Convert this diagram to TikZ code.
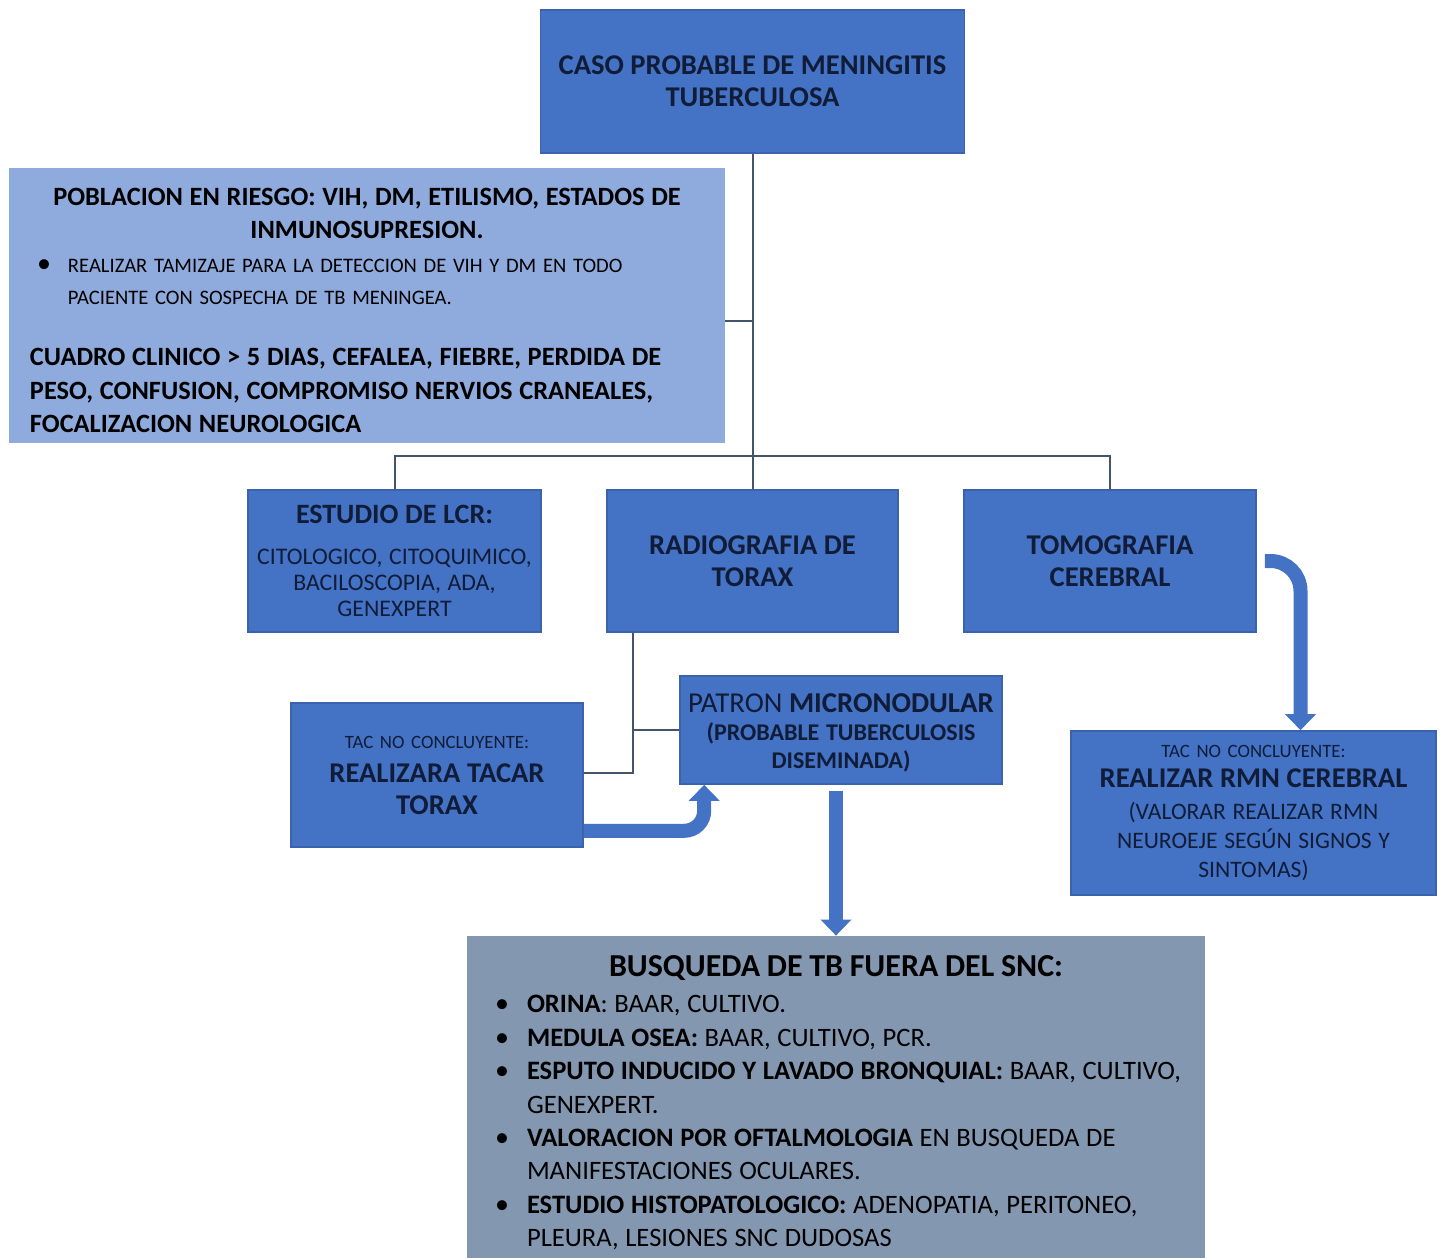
\documentclass[tikz,border=0pt]{standalone}
\usepackage{fontspec}
\setmainfont{Carlito}
\usepackage{tikz}
\usetikzlibrary{calc}
\usetikzlibrary{arrows.meta}

\definecolor{boxblue}{HTML}{4472C4}
\definecolor{boxedge}{HTML}{3A62AD}
\definecolor{riskblue}{HTML}{8FAADC}
\definecolor{slateblue}{HTML}{8497B0}
\definecolor{linegray}{HTML}{44546A}
\definecolor{navytext}{HTML}{101C38}

% bullet for the listed items
\newcommand{\listdot}[1]{\par\noindent\llap{{\fontsize{14}{0}\selectfont\textbullet}\hspace{#1}}}

\begin{document}
\begin{tikzpicture}[x=0.5pt,y=-0.5pt,
	bluebox/.style={draw=boxedge,line width=0.8pt,fill=boxblue,text=navytext,align=center,inner sep=0pt},
	link/.style={draw=linegray,line width=1pt},
	fatarrow/.style={draw=boxblue,line width=7pt,-{Triangle[width=15pt,length=8pt]}}]
	\useasboundingbox (0,0) rectangle (1442,1258);
	
	\node[bluebox,minimum width=212pt,minimum height=71.5pt,font=\bfseries\fontsize{14.3}{16}\selectfont] (caso) at (752.5,81.5) {CASO PROBABLE DE MENINGITIS\\TUBERCULOSA};
	
	\node[fill=riskblue,minimum width=358pt,minimum height=137.5pt,inner xsep=10.5pt,inner ysep=0pt,text width=337pt,align=left] (riesgo) at (367,305.5) {%
		{\centering\bfseries\fontsize{13.2}{16.5}\selectfont POBLACION EN RIESGO: VIH, DM, ETILISMO, ESTADOS DE\\ INMUNOSUPRESION.\par}
		\vspace{1pt}
		{\fontsize{10.3}{16}\selectfont\leftskip=19pt
		\listdot{8.5pt}REALIZAR TAMIZAJE PARA LA DETECCION DE VIH Y DM EN TODO\\ PACIENTE CON SOSPECHA DE TB MENINGEA.\par}
		\vspace{13.75pt}
		{\bfseries\fontsize{13.2}{16.75}\selectfont CUADRO CLINICO > 5 DIAS, CEFALEA, FIEBRE, PERDIDA DE\\ PESO, CONFUSION, COMPROMISO NERVIOS CRANEALES,\\ FOCALIZACION NEUROLOGICA\par}
		\kern-5pt};
	
	\node[bluebox,minimum width=146.5pt,minimum height=71pt,text width=144pt] (lcr) at (394.5,561) {%
		{\bfseries\fontsize{14}{15}\selectfont ESTUDIO DE LCR:\par}
		\vspace{7.5pt}
		{\fontsize{11.9}{13}\selectfont CITOLOGICO, CITOQUIMICO,\\ BACILOSCOPIA, ADA,\\ GENEXPERT\par}};
	\node[bluebox,minimum width=145.5pt,minimum height=71pt,font=\bfseries\fontsize{14.3}{16}\selectfont] (rx) at (752.5,561) {RADIOGRAFIA DE\\TORAX};
	\node[bluebox,minimum width=146pt,minimum height=71pt,font=\bfseries\fontsize{14.3}{16}\selectfont] (tomo) at (1110,561) {TOMOGRAFIA\\CEREBRAL};
	
	\node[bluebox,minimum width=146pt,minimum height=72pt,text width=140pt] (tacar) at (437,775) {%
		{\fontsize{9.4}{10}\selectfont TAC NO CONCLUYENTE:\par}
		\vspace{1pt}
		{\bfseries\fontsize{14.3}{16}\selectfont REALIZARA TACAR\\ TORAX\par}};
	\node[bluebox,minimum width=161pt,minimum height=54pt,text width=159pt] (patron) at (841,730) {%
		{\fontsize{14.4}{14}\selectfont PATRON \textbf{MICRONODULAR}\par}
		{\bfseries\fontsize{12}{14}\selectfont (PROBABLE TUBERCULOSIS\\ DISEMINADA)\par}
		\vspace{-3pt}};
	\node[bluebox,minimum width=182.5pt,minimum height=82pt,text width=180pt] (rmn) at (1253.5,813) {%
		{\fontsize{9.4}{10}\selectfont TAC NO CONCLUYENTE:\par}
		\vspace{0pt}
		{\bfseries\fontsize{14.3}{15}\selectfont REALIZAR RMN CEREBRAL\par}
		\vspace{1.5pt}
		{\fontsize{11.8}{14.5}\selectfont (VALORAR REALIZAR RMN\\ NEUROEJE SEGÚN SIGNOS Y\\ SINTOMAS)\par}};
	
	\node[fill=slateblue,minimum width=369pt,minimum height=161pt,inner xsep=11.5pt,inner ysep=0pt,text width=346pt,align=left] (busq) at (836,1097) {%
		{\centering\bfseries\fontsize{16}{16.7}\selectfont BUSQUEDA DE TB FUERA DEL SNC:\par}
		\vspace{1.3pt}
		{\fontsize{13.3}{16.7}\selectfont\leftskip=18.5pt
		\listdot{9pt}\textbf{ORINA}: BAAR, CULTIVO.
		\listdot{9pt}\textbf{MEDULA OSEA:} BAAR, CULTIVO, PCR.
		\listdot{9pt}\textbf{ESPUTO INDUCIDO Y LAVADO BRONQUIAL:} BAAR, CULTIVO,\\ GENEXPERT.
		\listdot{9pt}\textbf{VALORACION POR OFTALMOLOGIA} EN BUSQUEDA DE\\ MANIFESTACIONES OCULARES.
		\listdot{9pt}\textbf{ESTUDIO HISTOPATOLOGICO:} ADENOPATIA, PERITONEO,\\ PLEURA, LESIONES SNC DUDOSAS\par}
		\kern-6pt};
	
	\coordinate (bus) at (752.5,456);
	\coordinate (join) at (752.5,321);
	\coordinate (rxdrop) at ($(rx.south west)+(27,0)$);
	
	\draw[link] (caso.south) -- (bus);
	\draw[link] (riesgo.east |- join) -- (join);
	\draw[link] (lcr.north) |- (tomo.north |- bus) -- (tomo.north);
	\draw[link] (bus) -- (rx.north);
	\draw[link] (rxdrop) |- ($(tacar.east)+(0,-2)$);
	\draw[link] (rxdrop |- patron.west) -- (patron.west);
	
	\draw[fatarrow,rounded corners=10pt] ($(tacar.south east)+(0,-17)$) -| ($(patron.south west)+(25,0)$);
	\draw[fatarrow] ($(patron.south -| busq.north)+(0,6)$) -- (busq.north);
	\draw[fatarrow,rounded corners=15pt] ($(tomo.east)+(8,0)$) -| ($(rmn.north)+(47,0)$);
\end{tikzpicture}
\end{document}
